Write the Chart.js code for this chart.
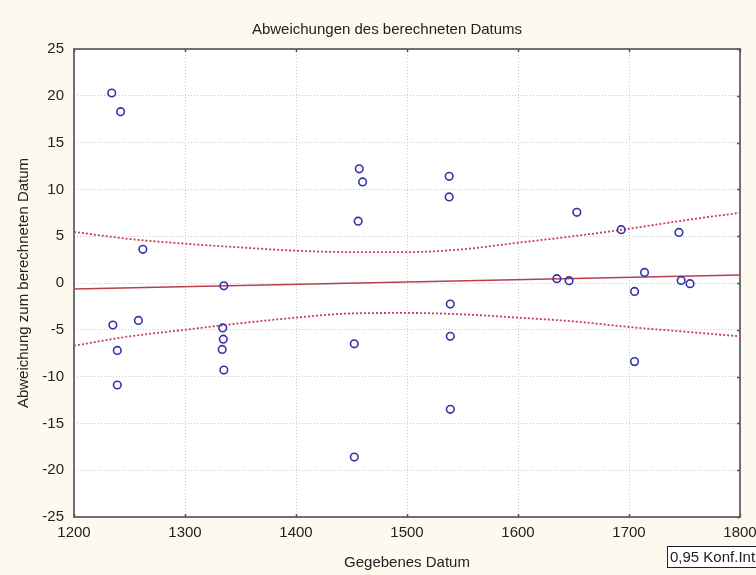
<!DOCTYPE html>
<html>
<head>
<meta charset="utf-8">
<script src="https://cdn.jsdelivr.net/npm/chart.js@4/dist/chart.umd.min.js"></script>
<style>
html,body{margin:0;padding:0;background:#fdf9ef;}
#wrap{width:756px;height:575px;position:relative;}
</style>
</head>
<body>
<div id="wrap"><canvas id="c" width="756" height="575"></canvas></div>
<script>
// ---- data ----
const chartTitle = "Abweichungen des berechneten Datums";
const xAxisTitle = "Gegebenes Datum";
const yAxisTitle = "Abweichung zum berechneten Datum";
const legendText = "0,95 Konf.Int.";

const pointX = [1234, 1242, 1262, 1235, 1258, 1239, 1239,
                1335, 1334, 1334.5, 1333.5, 1335,
                1457, 1460, 1456, 1452.5, 1452.5,
                1538, 1538, 1539, 1539, 1539,
                1635, 1646, 1653, 1693, 1705, 1705, 1714, 1745, 1747, 1755];
const pointY = [20.3, 18.3, 3.6, -4.5, -4.0, -7.2, -10.9,
                -0.3, -4.8, -6.0, -7.1, -9.3,
                12.2, 10.8, 6.6, -6.5, -18.6,
                11.4, 9.2, -2.25, -5.7, -13.5,
                0.46, 0.25, 7.55, 5.7, -0.9, -8.4, 1.13, 5.4, 0.28, -0.07];

const fitX = [1200, 1800];
const fitY = [-0.64, 0.86];

const bandX     = [1200, 1250, 1300, 1350, 1400, 1450, 1500, 1550, 1600, 1650, 1700, 1750, 1800];
const bandUpper = [5.46, 4.7, 4.2, 3.8, 3.45, 3.3, 3.3, 3.6, 4.3, 5.0, 5.8, 6.7, 7.5];
const bandLower = [-6.7, -5.7, -5.0, -4.3, -3.7, -3.25, -3.2, -3.35, -3.7, -4.1, -4.7, -5.2, -5.7];

const xMin = 1200, xMax = 1800, xStep = 100;
const yMin = -25, yMax = 25, yStep = 5;

// ---- build ----
const FONT = "'Liberation Sans', Arial, sans-serif";
const FS = 15;
const zip = (xs, ys) => xs.map((x, i) => ({x: x, y: ys[i]}));

const framePlugin = {
  id: 'frame',
  beforeDraw(chart) {
    const {ctx, chartArea: a} = chart;
    ctx.save();
    ctx.fillStyle = '#fdf9ef';
    ctx.fillRect(0, 0, chart.width, chart.height);
    ctx.fillStyle = '#ffffff';
    ctx.fillRect(a.left, a.top, a.right - a.left, a.bottom - a.top);
    ctx.restore();
  },
  afterDraw(chart) {
    const {ctx, chartArea: a, scales} = chart;
    ctx.save();
    // frame
    ctx.strokeStyle = '#707070';
    ctx.lineWidth = 2;
    ctx.strokeRect(a.left, a.top, a.right - a.left, a.bottom - a.top);
    // inward tick marks
    ctx.strokeStyle = '#555';
    ctx.lineWidth = 1.5;
    ctx.beginPath();
    scales.x.ticks.forEach(t => {
      const px = Math.round(scales.x.getPixelForValue(t.value)) + 0.5;
      ctx.moveTo(px, a.top); ctx.lineTo(px, a.top + 3);
      ctx.moveTo(px, a.bottom); ctx.lineTo(px, a.bottom - 3);
    });
    scales.y.ticks.forEach(t => {
      const py = Math.round(scales.y.getPixelForValue(t.value)) + 0.5;
      ctx.moveTo(a.right, py); ctx.lineTo(a.right - 3, py);
    });
    ctx.stroke();
    // title
    ctx.fillStyle = '#222';
    ctx.font = FS + 'px ' + FONT;
    ctx.textAlign = 'center';
    ctx.textBaseline = 'middle';
    ctx.fillText(chartTitle, 387, 30);
    // legend box
    ctx.font = '15px ' + FONT;
    ctx.textAlign = 'left';
    const bx = 667.5, by = 546.5, bw = 100, bh = 21;
    ctx.fillStyle = '#ffffff';
    ctx.fillRect(bx, by, bw, bh);
    ctx.strokeStyle = '#222';
    ctx.lineWidth = 1;
    ctx.strokeRect(bx, by, bw, bh);
    ctx.fillStyle = '#222';
    ctx.fillText(legendText, 670, 557.5);
    ctx.restore();
  }
};

const gridCommon = {
  color: '#c8c8c8',
  lineWidth: 1,
  drawTicks: false
};

new Chart(document.getElementById('c'), {
  type: 'scatter',
  data: {
    datasets: [
      {
        label: 'Punkte',
        data: zip(pointX, pointY),
        pointStyle: 'circle',
        pointRadius: 3.8,
        pointBorderWidth: 1.6,
        borderColor: '#3434a8',
        backgroundColor: 'rgba(255,255,255,0)',
        order: 0
      },
      {
        type: 'line',
        label: 'Regression',
        data: zip(fitX, fitY),
        borderColor: '#b8404c',
        borderWidth: 1.6,
        pointRadius: 0,
        fill: false,
        order: 1
      },
      {
        type: 'line',
        label: 'Obere 0,95',
        data: zip(bandX, bandUpper),
        borderColor: '#cc3c5c',
        borderWidth: 1.8,
        borderDash: [2, 2],
        pointRadius: 0,
        fill: false,
        cubicInterpolationMode: 'monotone',
        order: 2
      },
      {
        type: 'line',
        label: 'Untere 0,95',
        data: zip(bandX, bandLower),
        borderColor: '#cc3c5c',
        borderWidth: 1.8,
        borderDash: [2, 2],
        pointRadius: 0,
        fill: false,
        cubicInterpolationMode: 'monotone',
        order: 2
      }
    ]
  },
  options: {
    responsive: false,
    animation: false,
    devicePixelRatio: 1,
    layout: { padding: { left: 0, top: 49, right: 16, bottom: 0 } },
    plugins: {
      legend: { display: false },
      title: { display: false },
      tooltip: { enabled: false }
    },
    scales: {
      x: {
        type: 'linear',
        min: xMin, max: xMax,
        grid: gridCommon,
        border: { display: false, dash: [1, 2] },
        ticks: {
          stepSize: xStep,
          padding: 7,
          color: '#222',
          font: { family: FONT, size: FS },
          maxRotation: 0,
          callback: v => String(v)
        },
        title: {
          display: true,
          text: xAxisTitle,
          color: '#222',
          font: { family: FONT, size: FS },
          padding: { top: 4, bottom: 3 }
        },
        afterFit(scale) { scale.height = 58; scale.paddingLeft = 0; scale.paddingRight = 0; }
      },
      y: {
        type: 'linear',
        min: yMin, max: yMax,
        grid: gridCommon,
        border: { display: false, dash: [1, 2] },
        ticks: {
          stepSize: yStep,
          padding: 10,
          color: '#222',
          font: { family: FONT, size: FS }
        },
        title: {
          display: true,
          text: yAxisTitle,
          color: '#222',
          font: { family: FONT, size: FS },
          padding: { top: 15, bottom: 0 }
        },
        afterFit(scale) { scale.width = 74; scale.paddingTop = 0; scale.paddingBottom = 0; }
      }
    }
  },
  plugins: [framePlugin]
});
</script>
</body>
</html>
